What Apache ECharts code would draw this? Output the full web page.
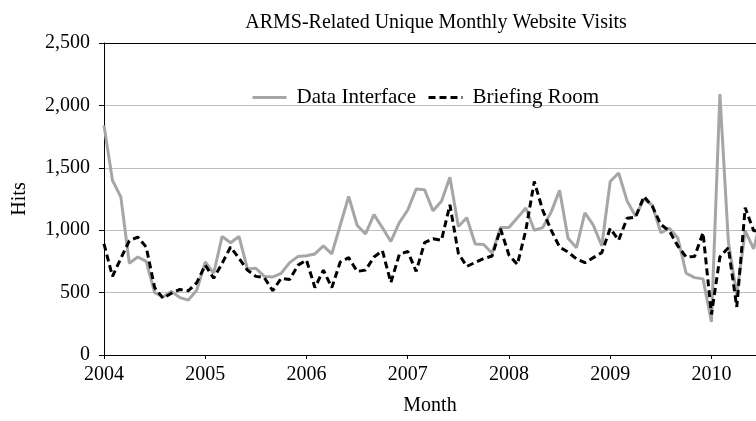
<!DOCTYPE html>
<html>
<head>
<meta charset="utf-8">
<title>ARMS-Related Unique Monthly Website Visits</title>
<script src="https://cdn.jsdelivr.net/npm/echarts@6/dist/echarts.min.js"></script>
<style>
  html, body { margin: 0; padding: 0; background: #fff; }
  #chart { width: 756px; height: 421px; }
</style>
</head>
<body>
<div id="chart"></div>
<script>
// monthly visits, Jan 2004 .. Jul 2010
var startYear = 2004;
var yearTicks = [2004, 2005, 2006, 2007, 2008, 2009, 2010];

var dataInterface = [
  1840, 1400, 1265, 735, 785, 750, 500, 465, 510, 460, 440, 520,
  745, 655, 950, 900, 950, 690, 695, 630, 625, 655, 740, 790,
  795, 810, 875, 810, 1040, 1270, 1040, 970, 1125, 1020, 910, 1060,
  1162, 1330, 1324, 1155, 1232, 1424, 1030, 1100, 890, 885, 815, 1021,
  1021, 1100, 1178, 1000, 1021, 1145, 1320, 935, 860, 1140, 1040, 875,
  1390, 1458, 1235, 1112, 1250, 1200, 980, 1015, 940, 655, 620, 610,
  265, 2090, 910, 480, 995, 850, 1120
];

var briefingRoom = [
  890, 630, 775, 915, 945, 865, 540, 455, 495, 525, 515, 580,
  720, 615, 735, 865, 775, 680, 630, 620, 515, 615, 605, 720,
  760, 540, 680, 540, 745, 780, 670, 680, 785, 835, 580, 805,
  830, 670, 900, 932, 920, 1203, 815, 710, 742, 772, 793, 1011,
  800, 726, 1000, 1390, 1160, 1000, 865, 825, 770, 740, 780, 820,
  1015, 920, 1095, 1105, 1270, 1190, 1045, 995, 875, 785, 790, 980,
  325, 785, 860, 385, 1180, 995, 1000
];

var font = "'Liberation Serif', 'Times New Roman', serif";

// pair each value with its month position (decimal year)
function toPoints(arr) {
  return arr.map(function (v, i) {
    return [startYear + i / 12, v];
  });
}

function yearLabel(v) {
  return yearTicks.indexOf(v) >= 0 ? String(v) : '';
}

var chart = echarts.init(document.getElementById('chart'), null, { renderer: 'canvas' });

var option = {
  animation: false,
  backgroundColor: '#fff',
  title: {
    text: 'ARMS-Related Unique Monthly Website Visits',
    left: 431,
    top: 8,
    textAlign: 'center',
    textStyle: { fontFamily: font, fontSize: 20, fontWeight: 'normal', color: '#000' }
  },
  legend: {
    left: 246,
    top: 82,
    itemWidth: 34,
    itemHeight: 14,
    itemGap: 11,
    itemStyle: { opacity: 0 },
    lineStyle: { width: 3 },
    textStyle: { fontFamily: font, fontSize: 21, color: '#000', padding: [0, 0, 0, 5] },
    data: ['Data Interface', 'Briefing Room']
  },
  grid: { left: 104, right: 0, top: 43, bottom: 59, containLabel: false },
  xAxis: [
    {
      type: 'value',
      min: 2004,
      max: 2010.44,
      interval: 1,
      name: 'Month',
      nameLocation: 'middle',
      nameGap: 41,
      nameTextStyle: { fontFamily: font, fontSize: 20, color: '#000' },
      axisLine: { lineStyle: { color: '#000', width: 1 } },
      axisTick: { show: true, length: 4, lineStyle: { color: '#000' } },
      axisLabel: {
        fontFamily: font, fontSize: 20, color: '#000', margin: 10,
        formatter: yearLabel, showMaxLabel: false
      },
      splitLine: { show: false }
    },
    {
      type: 'value',
      position: 'top',
      min: 2004,
      max: 2010.44,
      axisLine: { lineStyle: { color: '#000', width: 1 } },
      axisTick: { show: false },
      axisLabel: { show: false },
      splitLine: { show: false }
    }
  ],
  yAxis: {
    type: 'value',
    min: 0,
    max: 2500,
    interval: 500,
    name: 'Hits',
    nameLocation: 'middle',
    nameGap: 74,
    nameTextStyle: { fontFamily: font, fontSize: 20, color: '#000' },
    axisLine: { show: true, lineStyle: { color: '#000', width: 1 } },
    axisTick: { show: true, length: 5, lineStyle: { color: '#000' } },
    axisLabel: {
      fontFamily: font, fontSize: 20, color: '#000', margin: 14,
      formatter: function (v) { return v.toLocaleString('en-US'); }
    },
    splitLine: { lineStyle: { color: '#bfbfbf', width: 1 } }
  },
  series: [
    {
      name: 'Data Interface',
      type: 'line',
      data: toPoints(dataInterface),
      symbol: 'none',
      clip: true,
      lineStyle: { color: '#a6a6a6', width: 3 },
      itemStyle: { color: '#a6a6a6' }
    },
    {
      name: 'Briefing Room',
      type: 'line',
      data: toPoints(briefingRoom),
      symbol: 'none',
      clip: true,
      lineStyle: { color: '#000', width: 3, type: [7, 4] },
      itemStyle: { color: '#000' }
    }
  ]
};

chart.setOption(option);
</script>
</body>
</html>
